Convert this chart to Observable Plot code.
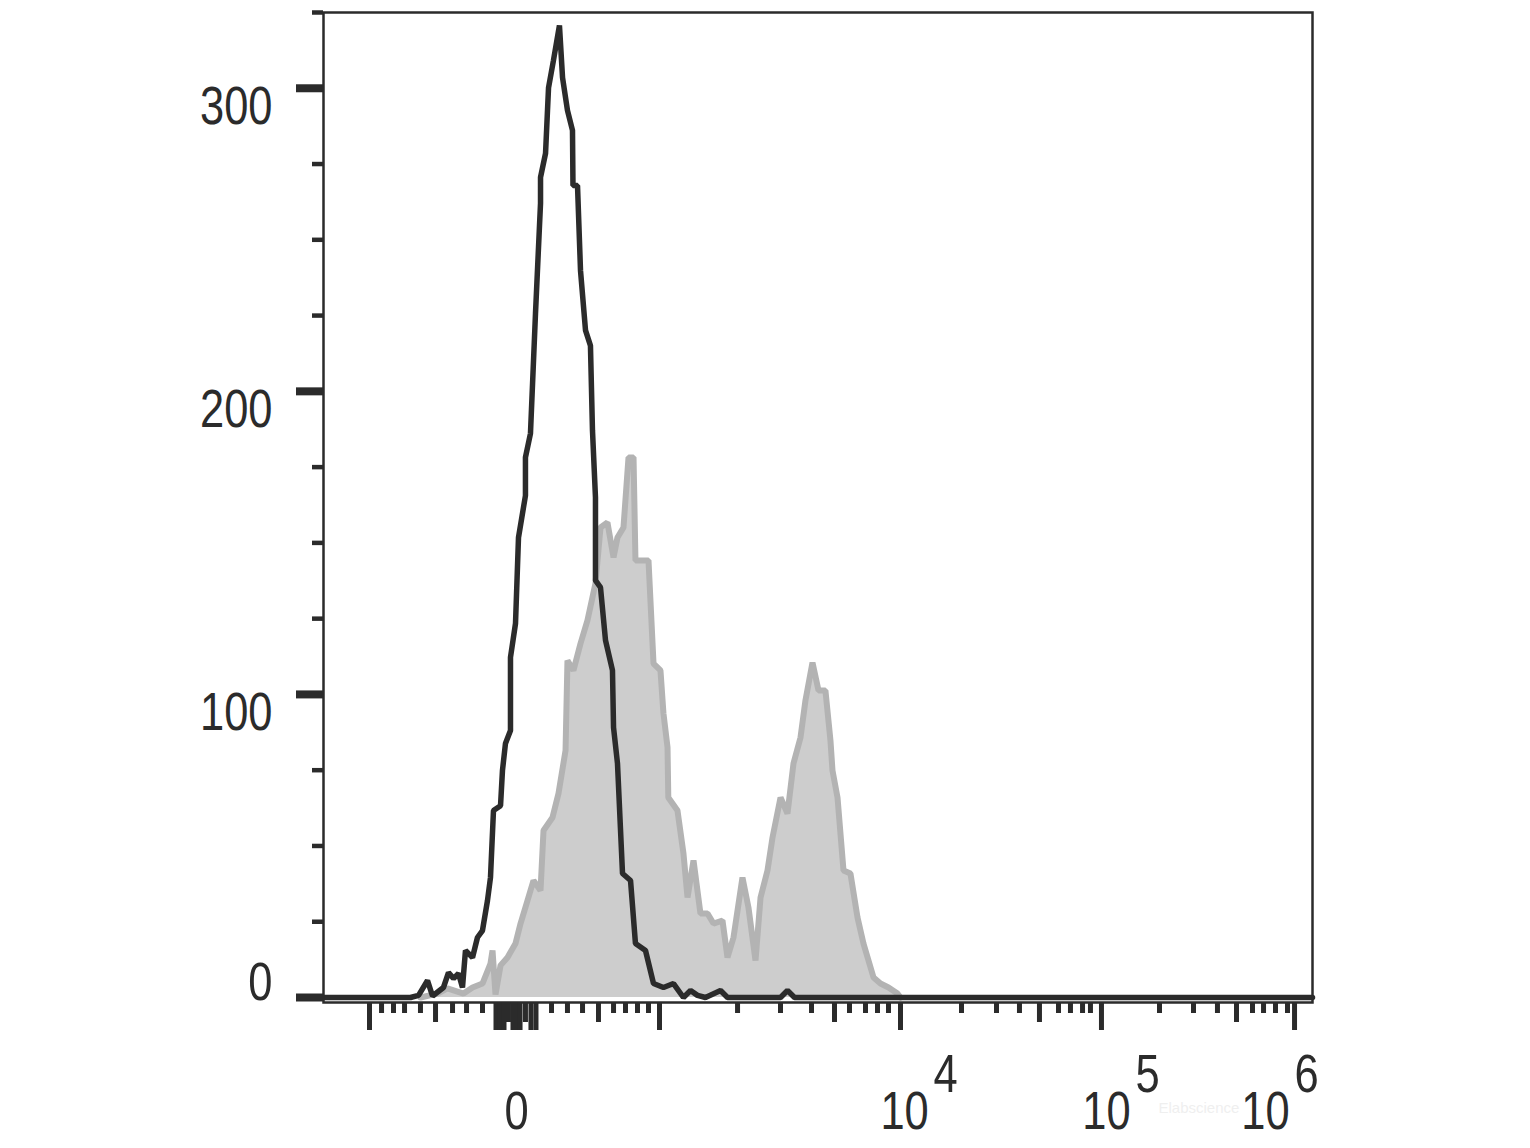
<!DOCTYPE html>
<html><head><meta charset="utf-8">
<script src="https://cdn.jsdelivr.net/npm/d3@7"></script>
<script src="https://cdn.jsdelivr.net/npm/@observablehq/plot@0.6"></script>
<style>html,body{margin:0;padding:0;background:#fff}svg{display:block}</style>
</head><body><div id="chart"></div>
<script>
// Histogram data in instrument display channels (0–1024) vs. event count
const controlChannel = [0, 90.1, 98.4, 107.7, 112.9, 124.2, 129.4, 134.6, 139.8, 143.9, 147.0, 154.3, 159.4, 164.6, 169.8, 172.9, 176.0, 183.3, 185.3, 188.4, 193.6, 193.6, 198.8, 201.9, 209.1, 209.1, 214.3, 219.5, 224.7, 224.7, 229.9, 233.0, 238.1, 244.3, 247.5, 252.6, 257.8, 258.3, 263.0, 266.1, 271.3, 276.4, 278.5, 281.6, 281.6, 286.8, 292.0, 299.2, 300.3, 304.4, 309.6, 317.9, 323.0, 333.4, 341.7, 352.0, 362.4, 372.7, 380.0, 387.2, 395.5, 411.1, 418.3, 473.2, 480.4, 487.7, 1024];
const controlCount = [0, 0, 0.7, 5.6, 0.5, 3.3, 8.2, 6.3, 7.9, 3.3, 15.5, 13.2, 19.8, 22.1, 32.0, 39.6, 61.7, 63.3, 74.9, 83.8, 88.1, 112.2, 123.4, 151.8, 165.6, 178.2, 186.1, 225.7, 262.0, 270.6, 278.5, 300.2, 309.2, 320.7, 303.5, 292.7, 286.1, 267.9, 267.9, 239.9, 220.1, 215.1, 187.1, 165.0, 137.6, 135.3, 117.8, 107.9, 89.1, 77.2, 40.9, 38.6, 17.8, 15.5, 4.6, 3.3, 4.6, 0, 2.3, 0.7, 0, 2.3, 0, 0, 2.3, 0, 0];

const sampleChannel = [100.4, 118.0, 128.4, 145.0, 154.3, 164.6, 172.9, 175.0, 178.1, 183.3, 190.5, 198.8, 204.0, 211.2, 217.4, 224.7, 227.8, 237.1, 243.3, 250.6, 252.6, 258.8, 266.1, 273.3, 281.6, 286.8, 294.0, 300.3, 304.4, 310.6, 315.8, 321.0, 323.0, 336.5, 341.7, 348.9, 352.0, 356.2, 357.0, 366.5, 372.7, 376.9, 383.1, 390.3, 397.6, 403.8, 413.1, 418.3, 424.5, 433.8, 440.0, 447.3, 452.5, 459.7, 464.9, 473.2, 480.4, 486.6, 493.9, 499.0, 506.3, 512.5, 519.7, 524.9, 527.0, 532.2, 538.4, 545.6, 552.9, 559.1, 569.5, 576.7, 585.0, 594.3, 597.4];
const sampleCount = [0, 1.3, 3.0, 1.3, 3.3, 4.6, 11.2, 15.5, 1.0, 10.6, 13.2, 17.8, 24.4, 32.0, 38.6, 35.3, 55.1, 59.4, 67.3, 81.5, 111.2, 107.9, 116.8, 124.4, 136.6, 155.1, 156.7, 145.2, 151.8, 155.1, 178.2, 178.2, 144.2, 144.2, 110.2, 107.9, 93.7, 82.5, 66.0, 61.7, 47.5, 33.0, 45.2, 27.7, 27.7, 24.4, 25.4, 13.2, 19.8, 39.6, 29.7, 12.2, 33.0, 41.9, 52.8, 66.0, 60.7, 77.2, 85.8, 98.0, 110.5, 101.3, 101.3, 84.8, 74.9, 66.0, 41.9, 40.9, 26.4, 17.8, 6.6, 4.6, 3.3, 1.3, 0];

// Axis ticks
const yMajorTicks = [0, 100, 200, 300];
const yMinorTicks = [25, 50, 75, 125, 150, 175, 225, 250, 275, 325];
const yLabels = ["100", "200", "300"];
const yLabelValues = [100, 200, 300];
const xLongTicks = [47.6, 178.6, 182.7, 186.9, 196.2, 199.8, 203.5, 214.8, 220.0, 347.9, 597.4, 805.5, 1005.4];
const xMediumTicks = [116.0, 191.5, 209.1, 284.7, 529.1, 741.3, 945.3];
const xShortTicks = [60.1, 72.5, 83.9, 100.4, 133.6, 148.1, 164.6, 236.1, 252.6, 268.2, 300.3, 312.7, 325.1, 336.5, 428.7, 473.2, 505.3, 544.6, 561.2, 573.6, 585.0, 660.6, 696.8, 720.6, 761.0, 773.4, 785.9, 794.1, 865.6, 900.8, 925.6, 961.9, 973.3, 985.7, 998.1];
const xLabelChannels = [199.8, 601.6, 810.7, 975.3];
const xLabelBase = ["0", "10", "10", "10"];
const xLabelExp = ["", "4", "5", "6"];
const watermark = ["Elabscience"];

const control = controlChannel.map((c, i) => ({ch: c, n: controlCount[i]}));
const sample = sampleChannel.map((c, i) => ({ch: c, n: sampleCount[i]}));
const xLabels = xLabelChannels.map((c, i) => ({ch: c, base: xLabelBase[i], exp: xLabelExp[i]}));
const yLab = yLabelValues.map((v, i) => ({v, t: yLabels[i]}));

const dark = "#2b2b2b";
const font = "'Liberation Sans', Arial, sans-serif";
const fs = 53;
const blank = () => "";

const chart = Plot.plot({
  width: 1530,
  height: 1148,
  marginLeft: 323,
  marginRight: 218,
  marginTop: 12,
  marginBottom: 146,
  style: {background: "#fff"},
  x: {domain: [0, 1024], label: null},
  y: {domain: [-1.65, 325], label: null},
  marks: [
    Plot.areaY(sample, {x: "ch", y: "n", fill: "#cdcdcd"}),
    Plot.line(sample, {x: "ch", y: "n", stroke: "#b3b3b3", strokeWidth: 6, strokeLinejoin: "miter"}),
    Plot.line(control, {x: "ch", y: "n", stroke: dark, strokeWidth: 5.5, strokeLinejoin: "miter"}),
    Plot.frame({stroke: dark, strokeWidth: 2.5}),
    Plot.axisY({ticks: yMajorTicks, tickSize: 27, tickFormat: blank, stroke: dark, strokeWidth: 8, label: null}),
    Plot.axisY({ticks: yMinorTicks, tickSize: 11, tickFormat: blank, stroke: dark, strokeWidth: 4.5, label: null}),
    Plot.axisX({ticks: xLongTicks, tickSize: 28, tickFormat: blank, stroke: dark, strokeWidth: 5, label: null}),
    Plot.axisX({ticks: xMediumTicks, tickSize: 20, tickFormat: blank, stroke: dark, strokeWidth: 5, label: null}),
    Plot.axisX({ticks: xShortTicks, tickSize: 11, tickFormat: blank, stroke: dark, strokeWidth: 5, label: null}),
    Plot.text(yLab, {y: "v", text: "t", frameAnchor: "left", dx: -51, dy: 19, textAnchor: "end", fill: dark, fontFamily: font, fontSize: fs}),
    Plot.text([0], {y: d => d, text: d => String(d), frameAnchor: "left", dx: -51, dy: -14, textAnchor: "end", fill: dark, fontFamily: font, fontSize: fs}),
    Plot.text(xLabels, {x: "ch", text: "base", frameAnchor: "bottom", dy: 126, textAnchor: "middle", fill: dark, fontFamily: font, fontSize: fs}),
    Plot.text(xLabels.filter(d => d.exp), {x: "ch", text: "exp", frameAnchor: "bottom", dx: 29, dy: 89, textAnchor: "start", fill: dark, fontFamily: font, fontSize: fs}),
    Plot.text(watermark, {frameAnchor: "bottom-right", dx: -154, dy: 110, textAnchor: "start", fill: "#efefef", fontFamily: font, fontSize: 15})
  ]
});
document.getElementById("chart").appendChild(chart);

// Narrow the label glyphs (the reference uses a condensed sans face)
chart.querySelectorAll("g[font-size='53'] text").forEach(t => {
  const w = t.getComputedTextLength();
  t.setAttribute("textLength", (w * 0.82).toFixed(1));
  t.setAttribute("lengthAdjust", "spacingAndGlyphs");
});
</script>
</body></html>
